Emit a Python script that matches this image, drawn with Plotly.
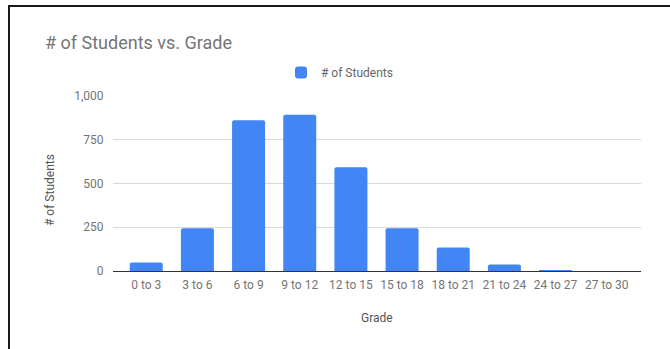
import plotly.graph_objects as go

categories = ["0 to 3", "3 to 6", "6 to 9", "9 to 12", "12 to 15",
              "15 to 18", "18 to 21", "21 to 24", "24 to 27", "27 to 30"]
students = [48, 245, 862, 893, 593, 245, 134, 37, 1, 0]
y_ticks = [0, 250, 500, 750, 1000]
y_tick_text = ["0", "250", "500", "750", "1,000"]

W, H = 670, 349
L, R, T, B = 113, 29, 96, 78
pw, ph = W - L - R, H - T - B

def px_x(x):
    return (x - L) / pw

def px_y(y):
    return (H - B - y) / ph

fig = go.Figure()
fig.add_trace(go.Bar(
    x=list(range(len(categories))), y=students, name="# of Students",
    marker=dict(color="#4285F4", line=dict(width=0)),
    width=0.645, showlegend=True,
))

fig.update_layout(
    width=W, height=H,
    margin=dict(l=L, r=R, t=T, b=B, autoexpand=False),
    paper_bgcolor="white", plot_bgcolor="white",
    font=dict(family="Roboto", size=12, color="#757575"),
    barcornerradius=2,
    title=dict(text="# of Students vs. Grade", x=45 / W, xanchor="left",
               y=1 - 43 / H, yanchor="middle",
               font=dict(family="Roboto", size=18, color="#757575")),
    legend=dict(orientation="h", x=px_x(281), xanchor="left",
                y=px_y(72.5), yanchor="middle",
                font=dict(family="Roboto", size=12, color="#666666"),
                bgcolor="rgba(0,0,0,0)"),
    xaxis=dict(range=[-0.65, 9.67], tickmode="array",
               tickvals=list(range(len(categories))), ticktext=categories,
               showgrid=False, zeroline=False, showline=False,
               ticks="outside", ticklen=3, tickcolor="rgba(0,0,0,0)",
               tickfont=dict(family="Roboto", size=12, color="#757575"),
               fixedrange=True),
    yaxis=dict(range=[0, 1000], tickmode="array", tickvals=y_ticks,
               ticktext=y_tick_text, showgrid=True, gridcolor="#d9d9d9",
               gridwidth=1, zeroline=True, zerolinecolor="#333333",
               zerolinewidth=1, showline=False,
               ticks="outside", ticklen=6, tickcolor="rgba(0,0,0,0)",
               tickfont=dict(family="Roboto", size=12, color="#757575"),
               fixedrange=True),
    annotations=[
        dict(text="# of Students", xref="paper", yref="paper",
             x=px_x(50), y=px_y(190), xanchor="center", yanchor="middle",
             textangle=-90, showarrow=False,
             font=dict(family="Roboto", size=12, color="#555555")),
        dict(text="Grade", xref="paper", yref="paper",
             x=px_x(377), y=px_y(318), xanchor="center", yanchor="middle",
             showarrow=False,
             font=dict(family="Roboto", size=12, color="#555555")),
    ],
    shapes=[
        dict(type="line", xref="paper", yref="paper",
             x0=px_x(8), x1=px_x(672), y0=px_y(6), y1=px_y(6),
             line=dict(color="#1a1a1a", width=2)),
        dict(type="line", xref="paper", yref="paper",
             x0=px_x(9), x1=px_x(9), y0=px_y(5), y1=px_y(352),
             line=dict(color="#1a1a1a", width=2)),
    ],
)

fig.write_html("out.html")
